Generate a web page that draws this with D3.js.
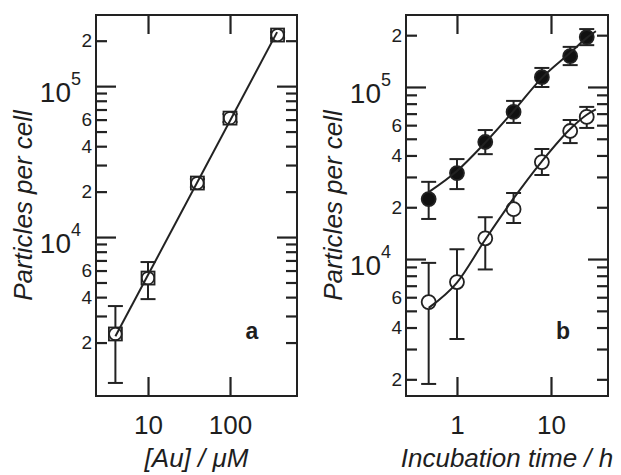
<!DOCTYPE html>
<html>
<head>
<meta charset="utf-8">
<script src="https://cdn.jsdelivr.net/npm/d3@7"></script>
<style>
  body { margin: 0; background: #fff; }
  svg { display: block; font-family: Arial, "Liberation Sans", Helvetica, sans-serif; }
</style>
</head>
<body>
<svg id="chart" width="621" height="475"></svg>
<script>
// panel a: particles per cell vs gold concentration
const concAu      = [4, 10, 40, 100, 380];
const auParticles = [2280, 5350, 22800, 61400, 218000];
const auErrLow    = [1080, 3880, 21400, 57800, 208000];
const auErrHigh   = [3490, 6830, 24200, 65300, 228000];
const auFitX      = [4, 375];
const auFitY      = [2200, 228000];
const auTicks     = [10, 100];

// panel b: particles per cell vs incubation time
const hours       = [0.5, 1, 2, 4, 8, 16, 24];
const filledVals  = [22300, 31600, 47900, 71600, 114000, 151000, 195000];
const filledLow   = [17100, 25500, 40700, 61800, 100000, 134000, 175000];
const filledHigh  = [28100, 38100, 56200, 83000, 129000, 171000, 217000];
const openVals    = [5620, 7350, 13200, 19500, 36600, 55500, 67000];
const openLow     = [1880, 3430, 8700, 16200, 30800, 47200, 57800];
const openHigh    = [9500, 11400, 17500, 24200, 43600, 64300, 76600];
const fitHours    = [0.5, 1, 2, 4, 8, 16, 24, 30];
const filledFit   = [24500, 32500, 47500, 72500, 113000, 158000, 193000, 211000];
const openFit     = [5200, 7300, 13000, 22500, 37000, 57000, 69000, 74000];
const hourTicks   = [1, 10];

const minorLabels = [2, 4, 6];
const INK = '#222';
const TXT = '#1e1e1e';
const TOP = 15, BOT = 396;

const svg = d3.select('#chart');

function yTicksOf(y) {
  const [lo, hi] = y.domain();
  return y.ticks().filter(v => v > lo * 1.2 && v < hi * 0.98);
}
function isMajor(v) {
  const e = Math.log10(v);
  return Math.abs(e - Math.round(e)) < 1e-9;
}
function lead(v) { return Math.round(v / Math.pow(10, Math.floor(Math.log10(v) + 1e-9))); }

function styleAxis(g) {
  g.select('.domain').remove();
  g.selectAll('.tick line').attr('stroke', INK).attr('stroke-width', 2.2);
  g.selectAll('.tick text').attr('fill', TXT);
}

function drawPanel(p) {
  const { x, y, x0, x1, ticksX, letter, xTitle } = p;
  const g = svg.append('g');
  const yt = yTicksOf(y);
  const majors = yt.filter(isMajor);
  const minors = yt.filter(v => !isMajor(v));

  // y axes, ticks pointing in
  const leftMinor = g.append('g').attr('transform', `translate(${x0},0)`)
    .call(d3.axisLeft(y).tickValues(minors).tickSize(-11).tickPadding(4)
      .tickFormat(v => minorLabels.includes(lead(v)) ? lead(v) : ''));
  leftMinor.selectAll('.tick text').attr('font-size', 19);
  styleAxis(leftMinor);
  const leftMajor = g.append('g').attr('transform', `translate(${x0},0)`)
    .call(d3.axisLeft(y).tickValues(majors).tickSize(-20).tickFormat(''));
  styleAxis(leftMajor);
  g.append('g').attr('transform', `translate(${x1},0)`)
    .call(d3.axisRight(y).tickValues(minors).tickSize(-11).tickFormat('')).call(styleAxis);
  g.append('g').attr('transform', `translate(${x1},0)`)
    .call(d3.axisRight(y).tickValues(majors).tickSize(-20).tickFormat('')).call(styleAxis);

  // 10^n labels
  majors.forEach(v => {
    const t = g.append('text')
      .attr('x', x0 - 15).attr('y', y(v) + 16)
      .attr('text-anchor', 'end').attr('fill', TXT);
    t.append('tspan').attr('font-size', 28).text('10');
    t.append('tspan').attr('font-size', 18).attr('dy', -17).text(Math.round(Math.log10(v)));
  });

  // x axes
  const xb = g.append('g').attr('transform', `translate(0,${BOT})`)
    .call(d3.axisBottom(x).tickValues(ticksX).tickSize(-19).tickFormat(d => String(d)));
  xb.selectAll('.tick text').attr('font-size', 26).attr('y', 38).attr('dy', 0);
  styleAxis(xb);
  g.append('g').attr('transform', `translate(0,${TOP})`)
    .call(d3.axisTop(x).tickValues(ticksX).tickSize(-19).tickFormat('')).call(styleAxis);

  // frame
  g.append('rect')
    .attr('x', x0).attr('y', TOP).attr('width', x1 - x0).attr('height', BOT - TOP)
    .attr('fill', 'none').attr('stroke', INK).attr('stroke-width', 2);

  // titles
  g.append('text')
    .attr('transform', `translate(${x0 - 64},${(TOP + BOT) / 2}) rotate(-90)`)
    .attr('text-anchor', 'middle').attr('font-size', 26).attr('font-style', 'italic')
    .attr('fill', TXT).text('Particles per cell');
  g.append('text')
    .attr('x', (x0 + x1) / 2).attr('y', 467)
    .attr('text-anchor', 'middle').attr('font-size', 26).attr('font-style', 'italic')
    .attr('fill', TXT).text(xTitle);
  g.append('text')
    .attr('x', x1 - 45).attr('y', 339)
    .attr('text-anchor', 'middle').attr('font-size', 23).attr('font-weight', 'bold')
    .attr('fill', TXT).text(letter);
  return g;
}

function errorBars(g, x, y, xs, lo, hi) {
  const cap = 7.5;
  xs.forEach((xv, i) => {
    const cx = x(xv);
    g.append('line').attr('x1', cx).attr('x2', cx).attr('y1', y(lo[i])).attr('y2', y(hi[i]))
      .attr('stroke', INK).attr('stroke-width', 2);
    [lo[i], hi[i]].forEach(v => {
      g.append('line').attr('x1', cx - cap).attr('x2', cx + cap).attr('y1', y(v)).attr('y2', y(v))
        .attr('stroke', INK).attr('stroke-width', 2);
    });
  });
}

function fitLine(g, x, y, xs, ys) {
  g.append('path')
    .datum(xs.map((v, i) => [v, ys[i]]))
    .attr('d', d3.line().x(d => x(d[0])).y(d => y(d[1])).curve(d3.curveMonotoneX))
    .attr('fill', 'none').attr('stroke', INK).attr('stroke-width', 2);
}

// ---- panel a ----
const xA = d3.scaleLog().domain([2.32, 656]).range([96, 297]);
const yA = d3.scaleLog().domain([885, 296000]).range([BOT, TOP]);
const gA = drawPanel({ x: xA, y: yA, x0: 96, x1: 297, ticksX: auTicks, letter: 'a', xTitle: '[Au] / μM' });
errorBars(gA, xA, yA, concAu, auErrLow, auErrHigh);
concAu.forEach((c, i) => {
  const cx = xA(c), cy = yA(auParticles[i]);
  gA.append('rect').attr('x', cx - 6.5).attr('y', cy - 6.5).attr('width', 13).attr('height', 13)
    .attr('fill', '#fff').attr('stroke', INK).attr('stroke-width', 1.8);
  gA.append('circle').attr('cx', cx).attr('cy', cy).attr('r', 6.2)
    .attr('fill', 'none').attr('stroke', INK).attr('stroke-width', 1.6);
});
fitLine(gA, xA, yA, auFitX, auFitY);

// ---- panel b ----
const xB = d3.scaleLog().domain([0.287, 40.4]).range([406, 608]);
const yB = d3.scaleLog().domain([1600, 262000]).range([BOT, TOP]);
const gB = drawPanel({ x: xB, y: yB, x0: 406, x1: 608, ticksX: hourTicks, letter: 'b', xTitle: 'Incubation time / h' });
errorBars(gB, xB, yB, hours, filledLow, filledHigh);
errorBars(gB, xB, yB, hours, openLow, openHigh);
gB.selectAll('.pt-open').data(hours).join('circle')
  .attr('cx', d => xB(d)).attr('cy', (d, i) => yB(openVals[i])).attr('r', 7)
  .attr('fill', '#fff').attr('stroke', INK).attr('stroke-width', 1.8);
gB.selectAll('.pt-fill').data(hours).join('circle')
  .attr('cx', d => xB(d)).attr('cy', (d, i) => yB(filledVals[i])).attr('r', 7)
  .attr('fill', '#111').attr('stroke', INK).attr('stroke-width', 1.8);
fitLine(gB, xB, yB, fitHours, filledFit);
fitLine(gB, xB, yB, fitHours, openFit);
</script>
</body>
</html>
